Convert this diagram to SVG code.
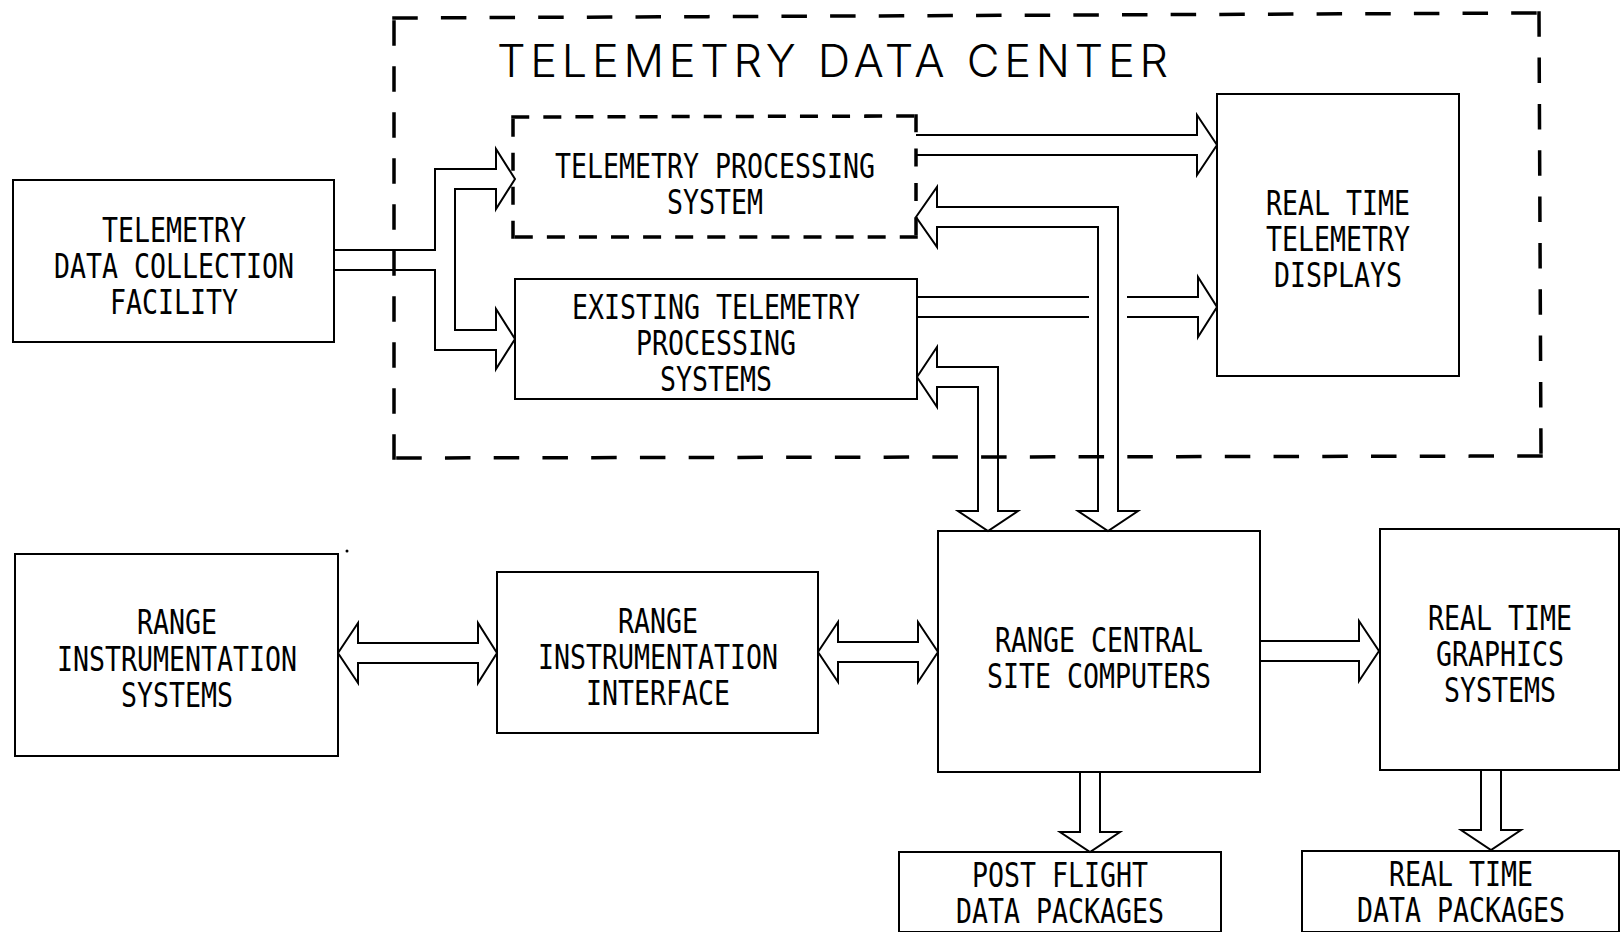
<svg xmlns="http://www.w3.org/2000/svg" width="1621" height="932" viewBox="0 0 1621 932">
  <style>
    .box { fill: #fff; stroke: #000; stroke-width: 2; }
    .dash { fill: none; stroke: #000; stroke-width: 3.5; stroke-linecap: square; }
    .conn { fill: none; stroke: #000; stroke-width: 2; stroke-linejoin: miter; }
    .lbl { font-family: "DejaVu Sans Mono", "Liberation Mono", monospace; font-size: 33px; fill: #000; text-anchor: middle; }
    .title { font-family: Inter, Roboto, "DejaVu Sans", sans-serif; font-weight: 300; font-size: 45px; fill: #000; }
  </style>
  <rect width="1621" height="932" fill="#fff"/>

  <!-- Telemetry data center boundary -->
  <g id="telemetry-data-center">
    <path class="dash" d="M394,18 L1539,13" stroke-dasharray="22 26.65"/>
    <path class="dash" d="M1539,13 L1541,456" stroke-dasharray="22 24.33"/>
    <path class="dash" d="M1541,456 L394,458" stroke-dasharray="22 26.74"/>
    <path class="dash" d="M394,458 L394,18" stroke-dasharray="22 24"/>
    <text class="title" x="497" y="77" textLength="671" lengthAdjust="spacing">TELEMETRY DATA CENTER</text>
  </g>

  <!-- Blocks -->
  <g id="telemetry-data-collection-facility">
    <rect class="box" x="13" y="180" width="321" height="162"/>
    <text class="lbl" x="174" y="242" textLength="144" lengthAdjust="spacingAndGlyphs">TELEMETRY</text>
    <text class="lbl" x="174" y="278" textLength="240" lengthAdjust="spacingAndGlyphs">DATA COLLECTION</text>
    <text class="lbl" x="174" y="314" textLength="128" lengthAdjust="spacingAndGlyphs">FACILITY</text>
  </g>

  <g id="telemetry-processing-system">
    <path class="dash" d="M513,117 L916,116" stroke-dasharray="14.5 17.58"/>
    <path class="dash" d="M916,116 L916,237" stroke-dasharray="14.5 19.83"/>
    <path class="dash" d="M916,237 L513,237" stroke-dasharray="14.5 17.58"/>
    <path class="dash" d="M513,237 L513,117" stroke-dasharray="14.5 19.5"/>
    <text class="lbl" x="715" y="178" textLength="320" lengthAdjust="spacingAndGlyphs">TELEMETRY PROCESSING</text>
    <text class="lbl" x="715" y="214" textLength="96" lengthAdjust="spacingAndGlyphs">SYSTEM</text>
  </g>

  <g id="existing-telemetry-processing-systems">
    <rect class="box" x="515" y="279" width="402" height="120"/>
    <text class="lbl" x="716" y="319" textLength="288" lengthAdjust="spacingAndGlyphs">EXISTING TELEMETRY</text>
    <text class="lbl" x="716" y="355" textLength="160" lengthAdjust="spacingAndGlyphs">PROCESSING</text>
    <text class="lbl" x="716" y="391" textLength="112" lengthAdjust="spacingAndGlyphs">SYSTEMS</text>
  </g>

  <g id="real-time-telemetry-displays">
    <rect class="box" x="1217" y="94" width="242" height="282"/>
    <text class="lbl" x="1338" y="215" textLength="144" lengthAdjust="spacingAndGlyphs">REAL TIME</text>
    <text class="lbl" x="1338" y="251" textLength="144" lengthAdjust="spacingAndGlyphs">TELEMETRY</text>
    <text class="lbl" x="1338" y="287" textLength="128" lengthAdjust="spacingAndGlyphs">DISPLAYS</text>
  </g>

  <g id="range-instrumentation-systems">
    <rect class="box" x="15" y="554" width="323" height="202"/>
    <circle cx="347" cy="551" r="1.5" fill="#000"/>
    <text class="lbl" x="177" y="634" textLength="80" lengthAdjust="spacingAndGlyphs">RANGE</text>
    <text class="lbl" x="177" y="671" textLength="240" lengthAdjust="spacingAndGlyphs">INSTRUMENTATION</text>
    <text class="lbl" x="177" y="707" textLength="112" lengthAdjust="spacingAndGlyphs">SYSTEMS</text>
  </g>

  <g id="range-instrumentation-interface">
    <rect class="box" x="497" y="572" width="321" height="161"/>
    <text class="lbl" x="658" y="633" textLength="80" lengthAdjust="spacingAndGlyphs">RANGE</text>
    <text class="lbl" x="658" y="669" textLength="240" lengthAdjust="spacingAndGlyphs">INSTRUMENTATION</text>
    <text class="lbl" x="658" y="705" textLength="144" lengthAdjust="spacingAndGlyphs">INTERFACE</text>
  </g>

  <g id="range-central-site-computers">
    <rect class="box" x="938" y="531" width="322" height="241"/>
    <text class="lbl" x="1099" y="652" textLength="208" lengthAdjust="spacingAndGlyphs">RANGE CENTRAL</text>
    <text class="lbl" x="1099" y="688" textLength="224" lengthAdjust="spacingAndGlyphs">SITE COMPUTERS</text>
  </g>

  <g id="real-time-graphics-systems">
    <rect class="box" x="1380" y="529" width="239" height="241"/>
    <text class="lbl" x="1500" y="630" textLength="144" lengthAdjust="spacingAndGlyphs">REAL TIME</text>
    <text class="lbl" x="1500" y="666" textLength="128" lengthAdjust="spacingAndGlyphs">GRAPHICS</text>
    <text class="lbl" x="1500" y="702" textLength="112" lengthAdjust="spacingAndGlyphs">SYSTEMS</text>
  </g>

  <g id="post-flight-data-packages">
    <rect class="box" x="899" y="852" width="322" height="80"/>
    <text class="lbl" x="1060" y="887" textLength="176" lengthAdjust="spacingAndGlyphs">POST FLIGHT</text>
    <text class="lbl" x="1060" y="923" textLength="208" lengthAdjust="spacingAndGlyphs">DATA PACKAGES</text>
  </g>

  <g id="real-time-data-packages">
    <rect class="box" x="1302" y="851" width="317" height="81"/>
    <text class="lbl" x="1461" y="886" textLength="144" lengthAdjust="spacingAndGlyphs">REAL TIME</text>
    <text class="lbl" x="1461" y="922" textLength="208" lengthAdjust="spacingAndGlyphs">DATA PACKAGES</text>
  </g>

  <!-- Double-line flow arrows -->
  <g id="connectors">
    <!-- facility feed splitting to both processing blocks -->
    <path class="conn" d="M334,250 H435 V169 H496 V149 L515,179 L496,209 V189 H455 V330 H496 V309 L515,339 L496,369 V350 H435 V270 H334"/>
    <!-- processing system to displays -->
    <path class="conn" d="M916,135 H1197 V115 L1217,145 L1197,175 V155 H916"/>
    <!-- existing systems to displays, broken where the vertical bus crosses -->
    <path class="conn" d="M917,297 H1089 M1127,297 H1198 V277 L1217,307 L1198,337 V317 H1127 M1089,317 H917"/>
    <!-- central computers <-> processing system -->
    <path class="conn" d="M916,217 L937,187 V207 H1118 V511 H1138 L1108,531 L1078,511 H1098 V227 H937 V247 Z"/>
    <!-- central computers <-> existing systems -->
    <path class="conn" d="M917,377 L937,347 V367 H998 V511 H1018 L988,531 L958,511 H978 V387 H937 V407 Z"/>
    <!-- range systems <-> interface -->
    <path class="conn" d="M338,653 L358,623 V643 H478 V623 L497,653 L478,683 V663 H358 V683 Z"/>
    <!-- interface <-> central computers -->
    <path class="conn" d="M818,652 L838,622 V642 H918 V622 L938,652 L918,682 V662 H838 V682 Z"/>
    <!-- central computers to graphics -->
    <path class="conn" d="M1260,641 H1359 V621 L1379,651 L1359,681 V661 H1260"/>
    <!-- central computers to post flight packages -->
    <path class="conn" d="M1080,772 V832 H1060 L1090,852 L1120,832 H1100 V772"/>
    <!-- graphics to real time packages -->
    <path class="conn" d="M1481,770 V830 H1461 L1491,850 L1521,830 H1501 V770"/>
  </g>
</svg>
